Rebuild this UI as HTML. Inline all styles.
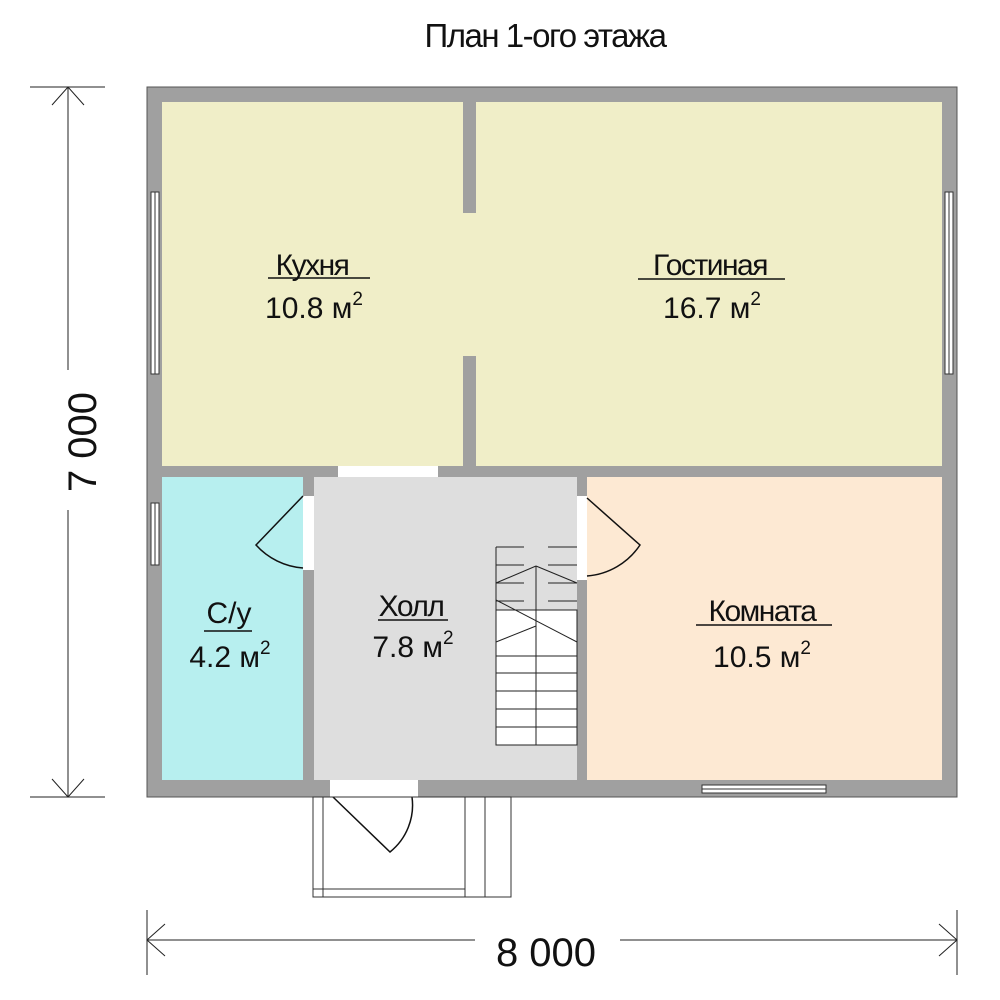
<!DOCTYPE html>
<html><head><meta charset="utf-8"><style>body{margin:0;background:#fff}svg{display:block}text{font-family:"Liberation Sans",sans-serif;fill:#111}</style></head><body>
<svg width="1000" height="1000" viewBox="0 0 1000 1000">
<text x="545" y="47" font-size="33" text-anchor="middle" letter-spacing="-1.5">План 1-ого этажа</text>
<rect x="147" y="87" width="810" height="710" fill="#a0a0a0" stroke="#555" stroke-width="1"/>
<rect x="162" y="102" width="301" height="364" fill="#f0eec8"/>
<rect x="476" y="102" width="466" height="364" fill="#f0eec8"/>
<rect x="462" y="213" width="15" height="143" fill="#f0eec8"/>
<rect x="162" y="477" width="141" height="303" fill="#b7efef"/>
<rect x="314" y="477" width="263" height="303" fill="#dedede"/>
<rect x="587" y="477" width="355" height="303" fill="#fde9d3"/>
<rect x="338" y="466" width="100" height="11" fill="#fff"/>
<rect x="303" y="496" width="11" height="74" fill="#fff"/>
<rect x="577" y="496" width="10" height="84" fill="#fff"/>
<rect x="330" y="780" width="88" height="17" fill="#fff"/>
<g fill="#fff" stroke="#333" stroke-width="1">
<rect x="151" y="192" width="8" height="182"/><line x1="155" y1="192" x2="155" y2="374"/>
<rect x="945" y="192" width="8" height="182"/><line x1="949" y1="192" x2="949" y2="374"/>
<rect x="151" y="503" width="8" height="62"/><line x1="155" y1="503" x2="155" y2="565"/>
<rect x="702" y="785" width="124" height="8"/><line x1="702" y1="789" x2="826" y2="789"/>
</g>
<g fill="none" stroke="#111" stroke-width="1.5">
<path d="M303 496 L256 545 A70 70 0 0 0 303 568"/>
<path d="M587 498 L640 545 A70 70 0 0 1 587 576"/>
<path d="M333 797 L390 852 A60 60 0 0 0 412 797"/>
</g>
<g fill="none" stroke="#333" stroke-width="1">
<rect x="313" y="797" width="198" height="100"/>
<line x1="323" y1="797" x2="323" y2="897"/>
<line x1="313" y1="889" x2="465" y2="889"/>
<line x1="465" y1="797" x2="465" y2="897"/>
<line x1="485" y1="797" x2="485" y2="897"/>
</g>
<g fill="none" stroke="#222" stroke-width="1">
<rect x="496" y="610" width="81" height="135" fill="#fff"/>
<line x1="496" y1="547" x2="496" y2="745"/>
<line x1="496" y1="547" x2="524" y2="547"/><line x1="548" y1="547" x2="577" y2="547"/>
<line x1="496" y1="565" x2="524" y2="565"/><line x1="548" y1="565" x2="577" y2="565"/>
<line x1="496" y1="583" x2="524" y2="583"/><line x1="548" y1="583" x2="577" y2="583"/>
<line x1="496" y1="601" x2="524" y2="601"/><line x1="548" y1="601" x2="577" y2="601"/>
<line x1="536" y1="566" x2="536" y2="745"/>
<line x1="496" y1="583" x2="536" y2="566"/><line x1="536" y1="566" x2="577" y2="583"/>
<line x1="496" y1="600" x2="577" y2="642"/>
<line x1="496" y1="642" x2="536" y2="626"/>
<line x1="496" y1="656" x2="577" y2="656"/><line x1="496" y1="673" x2="577" y2="673"/>
<line x1="496" y1="691" x2="577" y2="691"/><line x1="496" y1="709" x2="577" y2="709"/>
<line x1="496" y1="727" x2="577" y2="727"/>
</g>
<g font-size="30" text-anchor="middle">
<text x="312" y="275" letter-spacing="-1.5">Кухня</text><line x1="268" y1="278" x2="370" y2="278" stroke="#111" stroke-width="1.5"/>
<text x="314" y="318">10.8 м<tspan font-size="19" dy="-13">2</tspan></text>
<text x="710" y="275" letter-spacing="-1.5">Гостиная</text><line x1="638" y1="279" x2="785" y2="279" stroke="#111" stroke-width="1.5"/>
<text x="712" y="318">16.7 м<tspan font-size="19" dy="-13">2</tspan></text>
<text x="229" y="623">С/у</text><line x1="204" y1="631" x2="252" y2="631" stroke="#111" stroke-width="1.5"/>
<text x="230" y="667">4.2 м<tspan font-size="19" dy="-13">2</tspan></text>
<text x="411" y="616" letter-spacing="-1.5">Холл</text><line x1="378" y1="620" x2="448" y2="620" stroke="#111" stroke-width="1.5"/>
<text x="413" y="657">7.8 м<tspan font-size="19" dy="-13">2</tspan></text>
<text x="762" y="621" letter-spacing="-1.5">Комната</text><line x1="696" y1="625" x2="832" y2="625" stroke="#111" stroke-width="1.5"/>
<text x="762" y="667">10.5 м<tspan font-size="19" dy="-13">2</tspan></text>
</g>
<g stroke="#222" stroke-width="1" fill="none">
<line x1="30" y1="87" x2="105" y2="87"/><line x1="30" y1="797" x2="105" y2="797"/>
<line x1="68" y1="87" x2="68" y2="370"/><line x1="68" y1="510" x2="68" y2="797"/>
<path d="M52 105 L68 87 L84 105"/><path d="M52 779 L68 797 L84 779"/>
<line x1="147" y1="910" x2="147" y2="975"/><line x1="957" y1="910" x2="957" y2="975"/>
<line x1="147" y1="940" x2="475" y2="940"/><line x1="620" y1="940" x2="957" y2="940"/>
<path d="M165 924 L147 940 L165 956"/><path d="M939 924 L957 940 L939 956"/>
</g>
<text x="546" y="966" font-size="40" text-anchor="middle">8 000</text>
<text transform="translate(96,442) rotate(-90)" font-size="40" text-anchor="middle">7 000</text>
</svg>
</body></html>
